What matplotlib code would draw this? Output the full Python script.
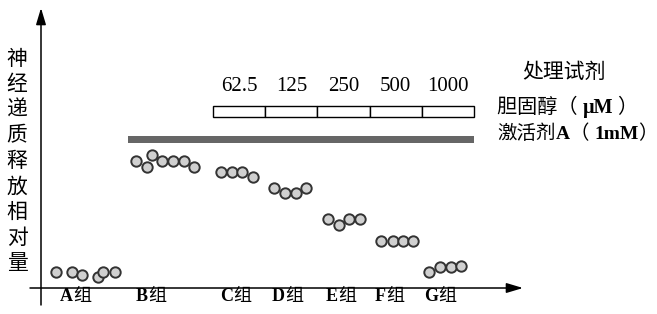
import numpy as np
import matplotlib.pyplot as plt

plt.rcParams['font.family'] = ['Liberation Serif', 'Noto Sans CJK SC']

groups = ['A', 'B', 'C', 'D', 'E', 'F', 'G']
label_x = [35, 110, 195, 247, 300, 348, 400]

# dot positions (x along axis, y = relative release, 0-100)
dots_x = [
    [15, 31, 41, 57, 62, 74],
    [95, 106, 111, 121, 132, 143, 153],
    [180, 191, 201, 212],
    [233, 244, 255, 265],
    [287, 298, 308, 319],
    [340, 352, 362, 372],
    [388, 399, 410, 420],
]
dots_y = [
    [5.7, 5.7, 4.6, 3.9, 5.7, 5.7],
    [45.4, 43.2, 47.5, 45.4, 45.4, 45.4, 43.2],
    [41.4, 41.4, 41.4, 39.6],
    [35.8, 34.0, 34.0, 35.8],
    [24.5, 22.6, 24.5, 24.5],
    [16.9, 16.9, 16.9, 16.9],
    [5.6, 7.5, 7.5, 7.9],
]

doses = ['62.5', '125', '250', '500', '1000']

W, H = 657, 314
fig = plt.figure(figsize=(W / 100, H / 100), dpi=100)
ax = fig.add_axes([30 / W, 9 / H, 493 / W, 297 / H])
ax.set_xlim(-11, 482)
ax.set_ylim(-6.07, 100)
ax.axis('off')

arrow = dict(arrowstyle='-|>,head_length=1.0,head_width=0.3', lw=1.1,
             color='k', shrinkA=0, shrinkB=0, mutation_scale=10)
ax.annotate('', xy=(482, 0), xytext=(-11, 0), arrowprops=arrow,
            annotation_clip=False)
ax.annotate('', xy=(0, 100), xytext=(0, -6.07), arrowprops=arrow,
            annotation_clip=False)

for xs, ys in zip(dots_x, dots_y):
    ax.scatter(xs, ys, s=56, facecolor='#d0d0d0', edgecolor='#333333',
               linewidths=1.4, zorder=3, clip_on=False)

# group labels: bold letter + 组
for x, g in zip(label_x, groups):
    ax.text(x - 3, -3.0, g, ha='right', va='center', fontsize=13,
            fontweight='bold')
    ax.text(x - 3, -3.0, '组', ha='left', va='center', fontsize=13)

# activator A bar
ax.barh(53.0, 346, left=87, height=2.5, color='#666666')

# cholesterol dose boxes
box_w = 52.2
lefts = 172 + np.arange(len(doses)) * box_w
ax.barh([63.0] * len(doses), box_w, left=lefts, height=3.9,
        facecolor='white', edgecolor='black', linewidth=1.0)
for l, d in zip(lefts, doses):
    ax.text(l + box_w / 2, 72.0, d, ha='center', va='center', fontsize=15)

# vertical y label, one character per line
ylab = '神经递质释放相对量'
for i, ch in enumerate(ylab):
    fig.text(17 / W, 1 - (60 + i * 25.6) / H, ch, ha='center', va='center',
             fontsize=15)


def chain_text(x, y, parts, size):
    # pieces of one label laid out left to right, each with its own weight
    t = fig.text(x, y, parts[0][0], fontweight=parts[0][1], fontsize=size,
                 ha='left', va='center')
    for s, w in parts[1:]:
        t = ax.annotate(s, xy=(1, 0), xycoords=t, ha='left', va='bottom',
                        fontsize=size, fontweight=w, annotation_clip=False)


fig.text(522 / W, 1 - 73 / H, '处理试剂', ha='left', va='center', fontsize=15)
chain_text(497 / W, 1 - 108 / H,
           [('胆固醇（ ', 'normal'), ('μM', 'bold'), (' ）', 'normal')], 14.5)
chain_text(497 / W, 1 - 134 / H,
           [('激活剂', 'normal'), ('A', 'bold'), ('（ ', 'normal'),
            ('1mM', 'bold'), ('）', 'normal')], 14)

fig.savefig('out.png', dpi=100)
